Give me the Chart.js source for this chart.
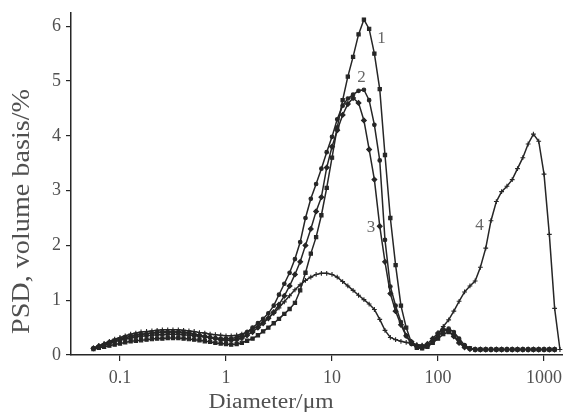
<!DOCTYPE html>
<html>
<head>
<meta charset="utf-8">
<script src="https://cdn.jsdelivr.net/npm/chart.js@4.4.1/dist/chart.umd.min.js"></script>
<style>
  html, body { margin: 0; padding: 0; background: #fff; }
  #wrap { width: 563px; height: 412px; }
</style>
</head>
<body>
<div id="wrap"><canvas id="psd" width="563" height="412"></canvas></div>
<script>
// particle size bins, um
const diameters = [0.0562,0.0631,0.0708,0.0794,0.0891,0.1,0.112,0.126,0.141,0.158,0.178,0.2,0.224,0.251,0.282,0.316,0.355,0.398,0.447,0.501,0.562,0.631,0.708,0.794,0.891,1,1.12,1.26,1.41,1.58,1.78,2,2.24,2.51,2.82,3.16,3.55,3.98,4.47,5.01,5.62,6.31,7.08,7.94,8.91,10,11.2,12.6,14.1,15.8,17.8,20,22.4,25.1,28.2,31.6,35.5,39.8,44.7,50.1,56.2,63.1,70.8,79.4,89.1,100,112,126,141,158,178,200,224,251,282,316,355,398,447,501,562,631,708,794,891,1000,1122,1259,1413];

// PSD, volume basis %
const curve1 = [0.11,0.13,0.15,0.17,0.19,0.21,0.23,0.25,0.26,0.27,0.28,0.29,0.30,0.30,0.31,0.31,0.31,0.30,0.29,0.28,0.27,0.25,0.24,0.22,0.21,
  0.20,0.19,0.20,0.22,0.26,0.30,0.36,0.43,0.50,0.58,0.66,0.75,0.84,0.95,1.18,1.50,1.85,2.15,2.55,3.05,3.60,4.15,4.65,5.08,5.44,5.85,6.12,
  5.95,5.50,4.85,3.65,2.50,1.64,0.90,0.50,0.22,0.13,0.12,0.15,0.22,0.30,0.38,0.42,0.36,0.25,0.16,0.12,
  0.1,0.1,0.1,0.1,0.1,0.1,0.1,0.1,0.1,0.1,0.1,0.1,0.1,0.1,0.1,0.1,null];
const curve2 = [0.12,0.15,0.18,0.21,0.24,0.27,0.29,0.31,0.33,0.34,0.35,0.36,0.37,0.37,0.38,0.38,0.38,0.37,0.36,0.35,0.34,0.33,0.32,0.31,0.30,
  0.30,0.30,0.32,0.36,0.42,0.50,0.58,0.66,0.76,0.90,1.10,1.30,1.50,1.75,2.06,2.50,2.85,3.12,3.40,3.70,3.98,4.30,4.55,4.68,4.75,4.82,4.84,
  4.65,4.20,3.55,2.10,1.25,0.90,0.60,0.35,0.20,0.14,0.13,0.16,0.24,0.34,0.44,0.48,0.42,0.30,0.18,0.12,
  0.1,0.1,0.1,0.1,0.1,0.1,0.1,0.1,0.1,0.1,0.1,0.1,0.1,0.1,0.1,0.1,null];
const curve3 = [0.12,0.16,0.19,0.23,0.26,0.29,0.32,0.34,0.36,0.38,0.39,0.40,0.41,0.42,0.42,0.42,0.42,0.41,0.40,0.38,0.36,0.34,0.32,0.30,0.28,
  0.27,0.27,0.28,0.31,0.36,0.42,0.50,0.58,0.67,0.78,0.92,1.08,1.26,1.47,1.70,2.00,2.30,2.62,2.88,3.42,3.80,4.10,4.38,4.58,4.69,4.60,4.28,
  3.75,3.20,2.35,1.70,1.12,0.80,0.55,0.35,0.24,0.17,0.16,0.20,0.30,0.40,0.47,0.44,0.34,0.22,0.14,0.11,
  0.1,0.1,0.1,0.1,0.1,0.1,0.1,0.1,0.1,0.1,0.1,0.1,0.1,0.1,0.1,0.1,null];
const curve4 = [0.13,0.17,0.21,0.25,0.29,0.32,0.35,0.38,0.40,0.42,0.43,0.44,0.45,0.46,0.46,0.46,0.46,0.45,0.44,0.43,0.41,0.40,0.38,0.37,0.36,
  0.35,0.35,0.36,0.38,0.42,0.47,0.53,0.60,0.68,0.76,0.86,0.97,1.08,1.19,1.28,1.36,1.42,1.47,1.49,1.49,1.47,1.42,1.34,1.26,1.18,1.09,1.01,
  0.93,0.83,0.65,0.45,0.32,0.28,0.25,0.23,0.21,0.19,0.18,0.18,0.24,0.38,0.52,0.64,0.80,0.98,1.15,1.26,
  1.35,1.60,1.95,2.45,2.80,2.98,3.08,3.20,3.40,3.60,3.85,4.03,3.90,3.30,2.20,0.85,0.10];

const xTicks = [0.1, 1, 10, 100, 1000];
const yTicks = [0, 1, 2, 3, 4, 5, 6];

// curve numbers placed in data coordinates
const curveLabels = [
  { text: '1', x: 29.3, y: 5.77 },
  { text: '2', x: 19.0, y: 5.07 },
  { text: '3', x: 23.3, y: 2.32 },
  { text: '4', x: 246, y: 2.37 }
];

const xTitle = 'Diameter/\u03bcm';
const yTitle = 'PSD, volume basis/%';

const FONT = "'Liberation Serif', 'DejaVu Serif', serif";
const INK = '#262626';
const TEXT = '#505050';

const toPoints = vals => diameters.map((d, i) => ({ x: d, y: vals[i] }));

const makeSet = (vals, style, radius) => ({
  data: toPoints(vals),
  borderColor: INK,
  backgroundColor: INK,
  borderWidth: 1.5,
  pointStyle: style,
  pointRadius: radius,
  pointBorderWidth: 1.1,
  pointBorderColor: INK,
  pointBackgroundColor: INK,
  tension: 0,
  spanGaps: false,
  fill: false
});

// curve numbers and the two axis titles (the printed titles are a bit wide, so stretch them)
const textPlugin = {
  id: 'psdText',
  afterDraw(chart) {
    const { ctx, chartArea, scales: { x, y } } = chart;
    ctx.save();
    ctx.font = '17px ' + FONT;
    ctx.fillStyle = '#666';
    ctx.textAlign = 'center';
    ctx.textBaseline = 'middle';
    curveLabels.forEach(l => {
      ctx.fillText(l.text, x.getPixelForValue(l.x), y.getPixelForValue(l.y));
    });

    ctx.fillStyle = TEXT;
    ctx.textBaseline = 'alphabetic';

    ctx.save();
    ctx.translate(271, 408);
    ctx.scale(1.15, 1);
    ctx.font = '20.5px ' + FONT;
    ctx.fillText(xTitle, 0, 0);
    ctx.restore();

    ctx.save();
    ctx.translate(28.5, 211.5);
    ctx.rotate(-Math.PI / 2);
    ctx.scale(1.15, 1);
    ctx.font = '24.5px ' + FONT;
    ctx.fillText(yTitle, 0, 0);
    ctx.restore();

    ctx.restore();
  }
};

new Chart(document.getElementById('psd'), {
  type: 'line',
  data: {
    datasets: [
      makeSet(curve1, 'rect', 2.3),
      makeSet(curve2, 'circle', 1.8),
      makeSet(curve3, 'rectRot', 2.4),
      makeSet(curve4, 'cross', 2.4)
    ]
  },
  options: {
    responsive: false,
    animation: false,
    devicePixelRatio: 1,
    layout: { autoPadding: false, padding: { top: 13, right: 0, left: 0, bottom: 0 } },
    plugins: { legend: { display: false }, tooltip: { enabled: false } },
    scales: {
      x: {
        type: 'logarithmic',
        min: 0.0345,
        max: 1510,
        afterBuildTicks: s => { s.ticks = xTicks.map(v => ({ value: v })); },
        afterFit: s => { s.height = 57; s.paddingLeft = 0; s.paddingRight = 0; },
        border: { display: true, color: INK, width: 1.5 },
        grid: { display: true, drawOnChartArea: false, drawTicks: true, tickLength: 6, color: INK, lineWidth: 1.2 },
        ticks: {
          autoSkip: false,
          maxRotation: 0,
          padding: 6,
          color: TEXT,
          font: { family: FONT, size: 18 },
          callback: v => String(v)
        }
      },
      y: {
        type: 'linear',
        min: 0,
        max: 6.24,
        afterBuildTicks: s => { s.ticks = yTicks.map(v => ({ value: v })); },
        afterFit: s => { s.width = 71; s.paddingTop = 0; s.paddingBottom = 0; },
        border: { display: true, color: INK, width: 1.5 },
        grid: { display: true, drawOnChartArea: false, drawTicks: true, tickLength: 5, color: INK, lineWidth: 1.2 },
        ticks: {
          padding: 5,
          color: TEXT,
          font: { family: FONT, size: 18 }
        }
      }
    }
  },
  plugins: [textPlugin]
});
</script>
</body>
</html>
